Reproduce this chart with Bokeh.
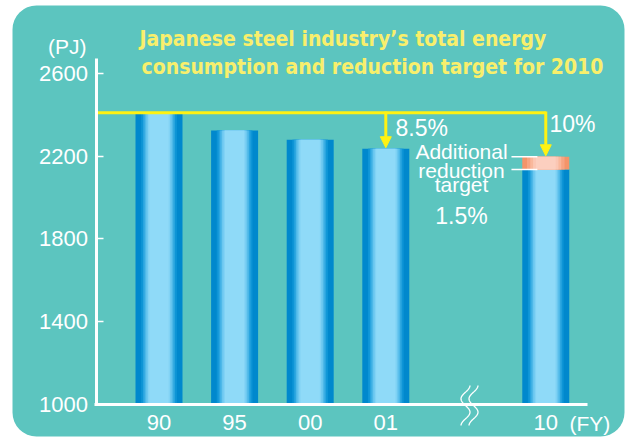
import numpy as np
from bokeh.plotting import figure
from bokeh.models import (Range1d, LinearAxis, FixedTicker, Label, Arrow,
                          NormalHead, BoxAnnotation, ColumnDataSource)
from bokeh.embed import file_html
from bokeh.resources import INLINE

# ---------------- data ----------------
years = ["90", "95", "00", "01", "10"]
energy_pj = [2410, 2325, 2280, 2236, 2135]      # total energy consumption (PJ)
additional_top_pj = 2197                         # 2010 bar top incl. additional 1.5% target
y_ticks = [1000, 1400, 1800, 2200, 2600]
title_lines = ["Japanese steel industry\u2019s total energy",
               "consumption and reduction target for 2010"]
pct_labels = ["8.5%", "10%"]
note_lines = ["Additional", "reduction", "target", "1.5%"]
y_unit = "(PJ)"
x_unit = "(FY)"

# ---------------- style / layout ----------------
W, H = 626, 437
TEAL = "#5CC5BF"
YEL = "#FFF212"
TITLE_YEL = "#F8EF6C"
FONT = "Liberation Sans"
TITLE_FONT = "'DejaVu Sans Condensed', Roboto, 'Liberation Sans'"

PX0, PXU = 158.5, 75.6        # pixel of first category, pixels per category
PY0, PYU = 403.5, 0.2065      # pixel of 1000 PJ, pixels per PJ
BREAK = 1.116                 # extra gap before the 2010 bar
BW = 47 / PXU                 # bar width
LBL_SHIFT = 8                 # baseline correction for labels (px)


def px2x(px):
    return (px - PX0) / PXU


def py2y(py):
    return 1000 + (PY0 - py) / PYU


xpos = [float(i) + (BREAK if i >= 4 else 0.0) for i in range(len(years))]

p = figure(width=W, height=H, output_backend="svg", toolbar_location=None,
           x_range=Range1d(px2x(0), px2x(W)), y_range=Range1d(py2y(H), py2y(0)),
           x_axis_type=None, y_axis_type=None, min_border=0)
p.title.visible = False
p.outline_line_color = None
p.background_fill_color = "white"
p.border_fill_color = "white"
p.grid.visible = False

# rounded teal panel
p.add_layout(BoxAnnotation(left=px2x(12), right=px2x(624), top=py2y(5), bottom=py2y(436),
                           border_radius=24, fill_color=TEAL, fill_alpha=1.0,
                           line_color=None, level="underlay"))

# ---------------- bars (stepped gradient) ----------------
src = ColumnDataSource(dict(x=xpos, top=energy_pj))
blue_layers = [(1.00, "#0088CD"), (0.76, "#0E95D6"), (0.68, "#2AA5DF"),
               (0.61, "#4DB8E8"), (0.54, "#6CC8F0"), (0.47, "#82D3F5"), (0.41, "#8FDAF8")]
for frac, col in blue_layers:
    p.vbar(x="x", top="top", bottom=1000, width=BW * frac, fill_color=col,
           line_color=None, source=src)

add_src = ColumnDataSource(dict(x=[xpos[-1]], bottom=[energy_pj[-1]], top=[additional_top_pj]))
salmon_layers = [(1.00, "#F39469"), (0.80, "#F6A482"), (0.66, "#F9B89C"),
                 (0.54, "#FBC7B4"), (0.42, "#FCCFBF")]
for frac, col in salmon_layers:
    p.vbar(x="x", top="top", bottom="bottom", width=BW * frac, fill_color=col,
           line_color=None, source=add_src)

# leader lines to the additional target segment
bar_left = xpos[-1] - BW / 2
p.segment(x0=[bar_left - 0.143] * 2, x1=[bar_left + 0.2] * 2,
          y0=[additional_top_pj, energy_pj[-1]], y1=[additional_top_pj, energy_pj[-1]],
          line_color="white", line_width=1.5)

# ---------------- axes ----------------
yaxis = LinearAxis(fixed_location=px2x(95.5), bounds=(py2y(405), py2y(58)),
                   ticker=FixedTicker(ticks=y_ticks),
                   axis_line_color="white", axis_line_width=3,
                   major_tick_in=7, major_tick_out=0, major_tick_line_color="white",
                   major_tick_line_width=1.5, minor_tick_line_color=None,
                   major_label_text_color="white", major_label_text_font=FONT,
                   major_label_text_font_size="22px", major_label_standoff=8)
p.add_layout(yaxis, "left")

xaxis = LinearAxis(fixed_location=1000, bounds=(px2x(94), px2x(587)),
                   ticker=FixedTicker(ticks=xpos),
                   major_label_overrides={x: y for x, y in zip(xpos, years)},
                   axis_line_color="white", axis_line_width=3,
                   major_tick_line_color=None, minor_tick_line_color=None,
                   major_label_text_color="white", major_label_text_font=FONT,
                   major_label_text_font_size="22px", major_label_standoff=5)
p.add_layout(xaxis, "below")

# axis break mark
t = np.linspace(0, 1, 60)
for cx in (465, 473):
    p.line(x=[px2x(cx + 4.5 * np.cos(3 * np.pi * tt)) for tt in t],
           y=[py2y(385 + 40 * tt) for tt in t], line_color="white", line_width=1.3)

# ---------------- yellow reduction lines ----------------
p.line(x=[px2x(96), xpos[-1]], y=[energy_pj[0]] * 2, line_color=YEL, line_width=3)
for xi, yend in ((xpos[3], energy_pj[3]), (xpos[-1], additional_top_pj)):
    p.add_layout(Arrow(x_start=xi, y_start=energy_pj[0] + 7, x_end=xi, y_end=yend + 5,
                       line_color=YEL, line_width=3,
                       end=NormalHead(size=11, fill_color=YEL, line_color=YEL)))

# ---------------- texts ----------------
def lab(text, px, py, size, align="left", color="white", font=FONT, style="normal"):
    p.add_layout(Label(x=px2x(px), y=py2y(py - LBL_SHIFT), text=text, text_color=color,
                       text_font=font, text_font_size=size, text_font_style=style,
                       text_align=align, text_baseline="alphabetic"))


lab(title_lines[0], 139, 46, "21px", color=TITLE_YEL, font=TITLE_FONT, style="bold")
lab(title_lines[1], 141, 74, "21px", color=TITLE_YEL, font=TITLE_FONT, style="bold")
lab(y_unit, 86, 54, "21px", align="right")
lab(x_unit, 569, 431, "21px")
lab(pct_labels[0], 395, 135, "23px")
lab(pct_labels[1], 549, 131, "23px")
for txt, base, sz in zip(note_lines, (159, 178, 192, 223), ("21px", "21px", "21px", "23px")):
    lab(txt, 461, base, sz, align="center")

open("out.html", "w").write(file_html(p, INLINE))
